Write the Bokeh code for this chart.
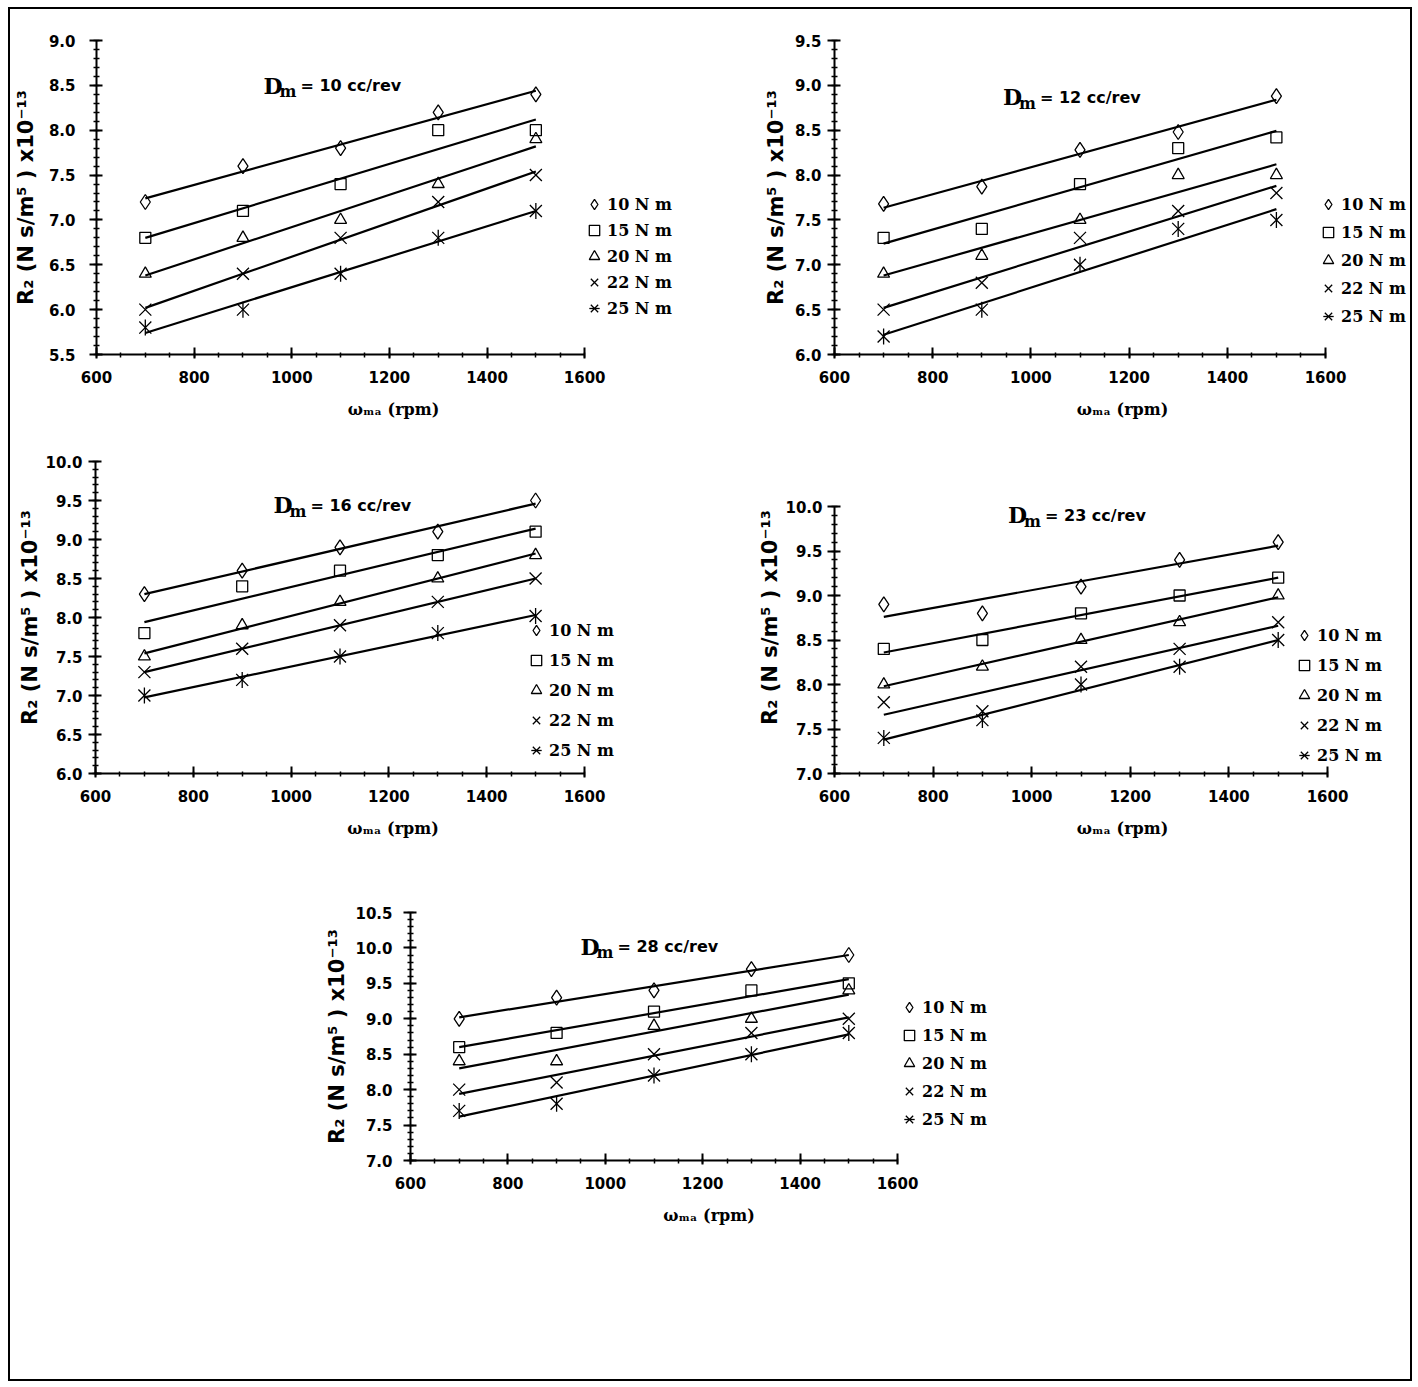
import numpy as np
from bokeh.plotting import figure
from bokeh.models import (Range1d, SingleIntervalTicker, PrintfTickFormatter,
                          Legend, LegendItem, Label, Spacer)
from bokeh.layouts import row, column
from bokeh.embed import file_html
from bokeh.resources import INLINE

# ---------------- data ----------------
rpm = [700, 900, 1100, 1300, 1500]
torque_labels = ["10 N m", "15 N m", "20 N m", "22 N m", "25 N m"]

r2_dm10 = [
    [7.2, 7.6, 7.8, 8.2, 8.4],
    [6.8, 7.1, 7.4, 8.0, 8.0],
    [6.4, 6.8, 7.0, 7.4, 7.9],
    [6.0, 6.4, 6.8, 7.2, 7.5],
    [5.8, 6.0, 6.4, 6.8, 7.1],
]
r2_dm12 = [
    [7.68, 7.87, 8.28, 8.48, 8.88],
    [7.3, 7.4, 7.9, 8.3, 8.42],
    [6.9, 7.1, 7.5, 8.0, 8.0],
    [6.5, 6.8, 7.3, 7.6, 7.8],
    [6.2, 6.5, 7.0, 7.4, 7.5],
]
r2_dm16 = [
    [8.3, 8.6, 8.9, 9.1, 9.5],
    [7.8, 8.4, 8.6, 8.8, 9.1],
    [7.5, 7.9, 8.2, 8.5, 8.8],
    [7.3, 7.6, 7.9, 8.2, 8.5],
    [7.0, 7.2, 7.5, 7.8, 8.02],
]
r2_dm23 = [
    [8.9, 8.8, 9.1, 9.4, 9.6],
    [8.4, 8.5, 8.8, 9.0, 9.2],
    [8.0, 8.2, 8.5, 8.7, 9.0],
    [7.8, 7.7, 8.2, 8.4, 8.7],
    [7.4, 7.6, 8.0, 8.2, 8.5],
]
r2_dm28 = [
    [9.0, 9.3, 9.4, 9.7, 9.9],
    [8.6, 8.8, 9.1, 9.4, 9.5],
    [8.4, 8.4, 8.9, 9.0, 9.4],
    [8.0, 8.1, 8.5, 8.8, 9.0],
    [7.7, 7.8, 8.2, 8.5, 8.8],
]
dm_titles = ["= 10 cc/rev", "= 12 cc/rev", "= 16 cc/rev", "= 23 cc/rev", "= 28 cc/rev"]
y_limits = [(5.5, 9.0), (6.0, 9.5), (6.0, 10.0), (7.0, 10.0), (7.0, 10.5)]
x_limits = (600, 1600)
title_pos = [(942, 8.495), (943, 8.87), (964, 9.44), (952, 9.90), (949, 10.02)]

# ---------------- layout / style (pixel geometry) ----------------
# fx/fy: figure left/top (page px), w/h: figure size, l/r/t/b: borders,
# x1: pixel of x=1600, ytop: pixel of y max
geoms = [
    dict(fx=10, fy=9, w=690, h=440, l=85, r=10, t=31, b=95, x1=584, ytop=40,
         ls=14, las=8, leg=(485, 33), sp=0),
    dict(fx=700, fy=9, w=710, h=440, l=134, r=0, t=31, b=95, x1=1325, ytop=40,
         ls=6, las=4, leg=(481, 25), sp=2),
    dict(fx=10, fy=449, w=690, h=440, l=85, r=10, t=12, b=116, x1=584, ytop=461,
         ls=6, las=0, leg=(428, 10), sp=4),
    dict(fx=700, fy=449, w=710, h=440, l=134, r=0, t=12, b=116, x1=1327, ytop=506,
         ls=5, las=0, leg=(457, 5), sp=4),
    dict(fx=310, fy=889, w=707, h=490, l=100, r=10, t=23, b=219, x1=897, ytop=912,
         ls=11, las=3, leg=(486, 28), sp=2),
]

markers = ["diamond", "square", "triangle", "x", "x"]
msizes = [15, 11, 12, 17, 17]


def make_panel(values, dm_text, yl, tpos, g):
    fl = g["fx"] + g["l"]
    fr = g["fx"] + g["w"] - g["r"]
    ft = g["fy"] + g["t"]
    fb = g["fy"] + g["h"] - g["b"]
    x0, x1 = x_limits
    x_end = x0 + (fr - fl) / (g["x1"] - fl) * (x1 - x0)
    y0, y1 = yl
    y_end = y0 + (fb - ft) / (fb - g["ytop"]) * (y1 - y0)

    p = figure(width=g["w"], height=g["h"], output_backend="svg", toolbar_location=None,
               x_range=Range1d(x0, x_end), y_range=Range1d(y0, y_end),
               min_border_left=g["l"], min_border_right=g["r"],
               min_border_top=g["t"], min_border_bottom=g["b"])
    p.outline_line_color = None
    p.grid.visible = False
    p.background_fill_color = "white"
    p.border_fill_color = "white"

    p.xaxis.bounds = (x0, x1)
    p.yaxis.bounds = (y0, y1)
    p.xaxis.ticker = SingleIntervalTicker(interval=200, num_minor_ticks=4)
    p.yaxis.ticker = SingleIntervalTicker(interval=0.5, num_minor_ticks=5)
    p.yaxis.formatter = PrintfTickFormatter(format="%.1f")
    for ax in (p.xaxis, p.yaxis):
        ax.axis_line_width = 2
        ax.axis_line_color = "black"
        ax.major_tick_line_width = 2
        ax.major_tick_line_color = "black"
        ax.minor_tick_line_width = 1.5
        ax.minor_tick_line_color = "black"
        ax.major_label_text_font = "DejaVu Sans"
        ax.major_label_text_font_style = "bold"
        ax.major_label_text_font_size = "15px"
        ax.major_label_text_color = "black"
        ax.axis_label_text_color = "black"
        ax.axis_label_text_font_style = "bold"
    p.xaxis.major_tick_in = 7
    p.xaxis.major_tick_out = 4
    p.xaxis.minor_tick_in = 2
    p.xaxis.minor_tick_out = 3
    p.yaxis.major_tick_in = 6
    p.yaxis.major_tick_out = 7
    p.yaxis.minor_tick_in = 3
    p.yaxis.minor_tick_out = 3
    p.xaxis.major_label_standoff = 12
    p.yaxis.major_label_standoff = g["ls"]
    p.xaxis.axis_label = "ωₘₐ (rpm)"
    p.xaxis.axis_label_text_font = "DejaVu Serif"
    p.xaxis.axis_label_text_font_size = "16px"
    p.xaxis.axis_label_standoff = 14
    p.yaxis.axis_label = "R₂ (N s/m⁵ ) x10⁻¹³"
    p.yaxis.axis_label_text_font = "DejaVu Sans"
    p.yaxis.axis_label_text_font_size = "21px"
    p.yaxis.axis_label_standoff = g["las"]

    xs = np.array(rpm, dtype=float)
    xe = [xs.min(), xs.max()]
    items = []
    for i, vals in enumerate(values):
        coef = np.polyfit(xs, np.array(vals), 1)
        p.line(xe, np.polyval(coef, xe), line_color="black", line_width=2.2)
    for i, vals in enumerate(values):
        rs = [p.scatter(rpm, vals, marker=markers[i], size=msizes[i], line_color="black",
                        fill_color=None, line_width=1.3)]
        if i == 4:
            rs.append(p.scatter(rpm, vals, marker="dash", angle=np.pi / 2, size=16,
                                line_color="black", line_width=1.3))
        items.append(LegendItem(label=torque_labels[i], renderers=rs))

    leg = Legend(items=items, location=g["leg"], orientation="vertical",
                 glyph_width=26, glyph_height=26, label_standoff=0, spacing=g["sp"],
                 padding=0, margin=0, border_line_color=None, background_fill_alpha=0,
                 label_text_font="DejaVu Serif", label_text_font_style="bold",
                 label_text_font_size="16px", label_text_color="black", label_height=20)
    p.add_layout(leg)

    tx, ty = tpos
    p.add_layout(Label(x=tx, y=ty, text="D", text_font="DejaVu Serif", text_font_style="bold",
                       text_font_size="22px", text_baseline="middle", text_color="black"))
    p.add_layout(Label(x=tx, y=ty, x_offset=16, y_offset=-6, text="m", text_font="DejaVu Serif",
                       text_font_style="bold", text_font_size="16px", text_baseline="middle",
                       text_color="black"))
    p.add_layout(Label(x=tx, y=ty, x_offset=37, text=dm_text, text_font="DejaVu Sans",
                       text_font_style="bold", text_font_size="16px", text_baseline="middle",
                       text_color="black"))
    return p


all_vals = [r2_dm10, r2_dm12, r2_dm16, r2_dm23, r2_dm28]
figs = [make_panel(all_vals[k], dm_titles[k], y_limits[k], title_pos[k], geoms[k]) for k in range(5)]

inner = column(
    row(figs[0], figs[1]),
    row(figs[2], figs[3]),
    row(Spacer(width=geoms[4]["fx"] - 10, height=10), figs[4]),
    styles={"border": "2px solid black", "background-color": "white"},
)
layout = column(Spacer(width=10, height=7), row(Spacer(width=8, height=10), inner))

open("out.html", "w").write(file_html(layout, INLINE))
